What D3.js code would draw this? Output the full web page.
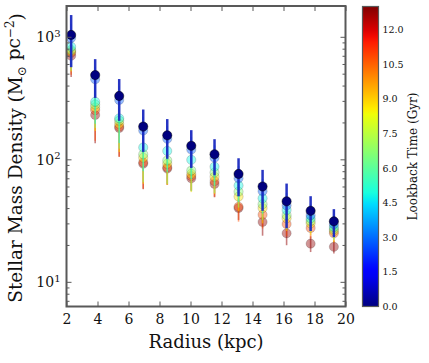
<!DOCTYPE html>
<html lang="en">
<head>
<meta charset="utf-8">
<title>Stellar mass density profiles</title>
<script src="https://cdn.jsdelivr.net/npm/d3@7"></script>
<style>
  body { margin: 0; background: #fff; }
  svg { display: block; font-family: "DejaVu Serif", serif; }
</style>
</head>
<body>
<div id="chart"></div>
<script>
// radial bins (kpc)
var radius = [2.3, 3.85, 5.4, 6.95, 8.5, 10.05, 11.55, 13.1, 14.65, 16.2, 17.75, 19.25];

// lookback time of each profile (Gyr)
var lookback = [12.8, 10.8, 8.7, 6.6, 4.8, 2.8, 0.0];

// density profiles (Msun / pc^2), oldest first
var dens128 = [700, 230, 180, 92, 84, 70, 63, 40, 30.8, 24.9, 20.5, 19.3];
var dens108 = [740, 252, 185, 94.6, 86, 73, 66.5, 41, 35.3, 29.6, 27.5, 24.9];
var dens087 = [760, 265, 195, 103, 92, 76, 72, 49.6, 40, 33, 30, 26];
var dens066 = [780, 280, 207, 110, 98, 81, 78, 54.4, 43, 35, 31.4, 26.9];
var dens048 = [830, 295, 216, 125, 117, 99, 87, 61, 48, 38.6, 33, 28];
var dens028 = [980, 450, 305, 172, 147, 120, 103, 70, 55, 42, 35, 29.5];
var dens000 = [1035, 487, 329, 185, 157, 129, 110, 76, 60, 45.4, 38, 31.2];

// errors on the densities
var err128 = [230, 95, 75, 35, 22, 15, 14, 8, 7, 5, 3, 2.3];
var err108 = [250, 110, 80, 37, 24, 17, 17, 10, 8, 6, 5, 4];
var err087 = [240, 95, 80, 40, 30, 22, 20, 12, 10, 7, 6, 5];
var err066 = [250, 100, 85, 45, 35, 26, 25, 14, 11, 8, 6, 5];
var err048 = [250, 100, 80, 45, 38, 30, 26, 16, 12, 9, 7, 5];
var err028 = [300, 120, 90, 50, 40, 32, 27, 18, 14, 11, 8, 6];
var err000 = [470, 170, 123, 70, 56, 44, 36, 26, 22, 18, 12, 8];

// tick values
var xTicks = [2, 4, 6, 8, 10, 12, 14, 16, 18, 20];
var yMajor = [10, 100, 1000];
var yMinor = [7, 8, 9, 20, 30, 40, 50, 60, 70, 80, 90, 200, 300, 400, 500, 600, 700, 800, 900];
var cbTicks = [0, 1.5, 3, 4.5, 6, 7.5, 9, 10.5, 12];

var densities = [dens128, dens108, dens087, dens066, dens048, dens028, dens000];
var errors = [err128, err108, err087, err066, err048, err028, err000];

var w = 429, h = 363;
var pLeft = 66.5, pRight = 345.5, pTop = 6, pBottom = 306.5;
var frameCol = "#595959";

// matplotlib jet colormap
var jetR = [[0, 0], [0.35, 0], [0.66, 1], [0.89, 1], [1, 0.5]];
var jetG = [[0, 0], [0.125, 0], [0.375, 1], [0.64, 1], [0.91, 0], [1, 0]];
var jetB = [[0, 0.5], [0.11, 1], [0.34, 1], [0.65, 0], [1, 0]];
function seg(s, v) {
  for (var i = 1; i < s.length; i++) {
    if (v <= s[i][0]) {
      var f = (v - s[i - 1][0]) / (s[i][0] - s[i - 1][0]);
      return s[i - 1][1] + f * (s[i][1] - s[i - 1][1]);
    }
  }
  return s[s.length - 1][1];
}
function jet(v) {
  v = Math.max(0, Math.min(1, v));
  return d3.rgb(255 * seg(jetR, v), 255 * seg(jetG, v), 255 * seg(jetB, v)).formatHex();
}

var tMax = 13.0;
var color = function(t) { return jet(t / tMax); };

var x = d3.scaleLinear().domain([2, 20]).range([pLeft, pRight]);
var y = d3.scaleLog().domain([6.29, 1784]).range([pBottom, pTop]);

var svg = d3.select("#chart").append("svg")
  .attr("width", w).attr("height", h);

// data: error bars then markers, oldest first so today's profile sits on top
densities.forEach(function(vals, s) {
  var t = lookback[s];
  var now = t === 0;
  var g = svg.append("g");
  g.selectAll("line")
    .data(vals)
    .enter()
    .append("line")
    .attr("x1", function(d, i) { return x(radius[i]); })
    .attr("x2", function(d, i) { return x(radius[i]); })
    .attr("y1", function(d, i) { return y(Math.max(d - errors[s][i], 1)); })
    .attr("y2", function(d, i) { return y(d + errors[s][i]); })
    .attr("stroke", now ? "#1b2ac0" : color(t))
    .attr("stroke-width", now ? 2.5 : 1.6)
    .attr("stroke-opacity", now ? 0.95 : 0.5);
  g.selectAll("circle")
    .data(vals)
    .enter()
    .append("circle")
    .attr("cx", function(d, i) { return x(radius[i]); })
    .attr("cy", function(d) { return y(d); })
    .attr("r", 4.6)
    .attr("fill", color(t))
    .attr("fill-opacity", now ? 1 : 0.42)
    .attr("stroke", "#000")
    .attr("stroke-opacity", now ? 0.6 : 0.2)
    .attr("stroke-width", 0.8);
});

// frame
svg.append("rect")
  .attr("x", pLeft).attr("y", pTop)
  .attr("width", pRight - pLeft).attr("height", pBottom - pTop)
  .attr("fill", "none").attr("stroke", frameCol).attr("stroke-width", 2);

// x axis (ticks point inwards)
var xAxis = svg.append("g")
  .attr("transform", "translate(0," + pBottom + ")")
  .call(d3.axisBottom(x).tickValues(xTicks).tickSizeInner(-5).tickSizeOuter(0).tickPadding(8)
    .tickFormat(d3.format("d")));
svg.append("g")
  .attr("transform", "translate(0," + pTop + ")")
  .call(d3.axisTop(x).tickValues(xTicks).tickSizeInner(-5).tickSizeOuter(0).tickFormat(""));

// y axes: major and minor ticks
svg.append("g")
  .attr("transform", "translate(" + pLeft + ",0)")
  .call(d3.axisLeft(y).tickValues(yMajor).tickSizeInner(-5).tickSizeOuter(0).tickFormat(""));
svg.append("g")
  .attr("transform", "translate(" + pLeft + ",0)")
  .call(d3.axisLeft(y).tickValues(yMinor).tickSizeInner(-3).tickSizeOuter(0).tickFormat(""));
svg.append("g")
  .attr("transform", "translate(" + pRight + ",0)")
  .call(d3.axisRight(y).tickValues(yMajor).tickSizeInner(-5).tickSizeOuter(0).tickFormat(""));
svg.append("g")
  .attr("transform", "translate(" + pRight + ",0)")
  .call(d3.axisRight(y).tickValues(yMinor).tickSizeInner(-3).tickSizeOuter(0).tickFormat(""));

svg.selectAll(".domain").remove();
svg.selectAll(".tick line").attr("stroke", frameCol).attr("stroke-width", 1);
xAxis.selectAll("text")
  .attr("font-family", "DejaVu Serif, serif")
  .attr("font-size", "14px")
  .attr("fill", "#111");

// y tick labels as 10^n
yMajor.forEach(function(v) {
  var t = svg.append("text")
    .attr("x", pLeft - 6)
    .attr("y", y(v))
    .attr("dy", "0.38em")
    .attr("text-anchor", "end")
    .attr("font-size", "14px")
    .attr("fill", "#111");
  t.append("tspan").text("10");
  t.append("tspan").attr("dy", "-0.55em").attr("font-size", "10px")
    .text(String(Math.round(Math.log10(v))));
});

// axis titles
svg.append("text")
  .attr("x", (pLeft + pRight) / 2)
  .attr("y", 348)
  .attr("text-anchor", "middle")
  .attr("font-size", "18px")
  .attr("fill", "#111")
  .text("Radius (kpc)");

var yl = svg.append("text")
  .attr("transform", "translate(22,158) rotate(-90)")
  .attr("text-anchor", "middle")
  .attr("font-size", "18.5px")
  .attr("fill", "#111");
yl.append("tspan").text("Stellar Mass Density (M");
yl.append("tspan").attr("font-size", "12px").attr("dy", "0.3em").text("\u2299");
yl.append("tspan").attr("dy", "-0.3em").text(" pc");
yl.append("tspan").attr("font-size", "12px").attr("dy", "-0.5em").text("\u22122");
yl.append("tspan").attr("dy", "0.5em").text(")");

// colorbar
var cbX = 362.5, cbW = 16, cbTop = 6.5, cbBottom = 306.5;
var c = d3.scaleLinear().domain([0, tMax]).range([cbBottom, cbTop]);

var grad = svg.append("defs").append("linearGradient")
  .attr("id", "jetgrad")
  .attr("x1", 0).attr("y1", 1).attr("x2", 0).attr("y2", 0);
grad.selectAll("stop")
  .data(d3.range(0, 1.0001, 0.02))
  .enter()
  .append("stop")
  .attr("offset", function(d) { return d; })
  .attr("stop-color", function(d) { return jet(d); });

svg.append("rect")
  .attr("x", cbX).attr("y", cbTop)
  .attr("width", cbW).attr("height", cbBottom - cbTop)
  .attr("fill", "url(#jetgrad)")
  .attr("stroke", frameCol).attr("stroke-width", 1.2);

var cbAxis = svg.append("g")
  .attr("transform", "translate(" + (cbX + cbW) + ",0)")
  .call(d3.axisRight(c).tickValues(cbTicks).tickSizeInner(0).tickSizeOuter(0).tickPadding(4)
    .tickFormat(d3.format(".1f")));
cbAxis.select(".domain").remove();
cbAxis.selectAll("text")
  .attr("font-family", "DejaVu Serif, serif")
  .attr("font-size", "9.5px")
  .attr("fill", "#111");

svg.append("text")
  .attr("transform", "translate(417," + ((cbTop + cbBottom) / 2) + ") rotate(-90)")
  .attr("text-anchor", "middle")
  .attr("font-size", "12px")
  .attr("fill", "#111")
  .text("Lookback Time (Gyr)");
</script>
</body>
</html>
